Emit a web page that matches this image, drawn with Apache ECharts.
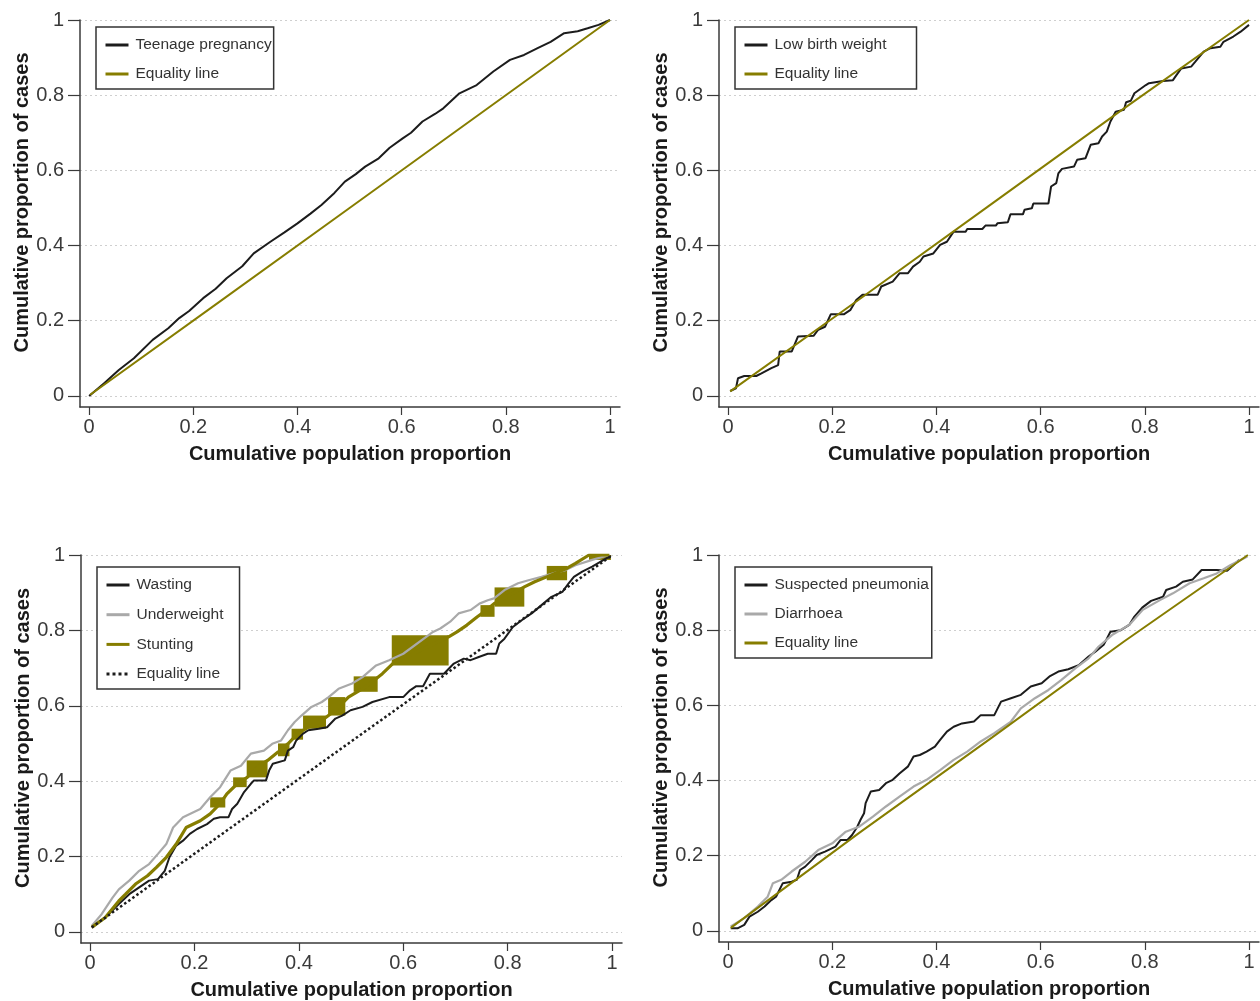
<!DOCTYPE html>
<html>
<head>
<meta charset="utf-8">
<script src="https://cdn.jsdelivr.net/npm/echarts@6/dist/echarts.min.js"></script>
<style>
html,body{margin:0;padding:0;background:#fff;}
#chart{width:1260px;height:1001px;}
</style>
</head>
<body>
<div id="chart"></div>
<script>
// ---- tick labels ----
const xTicks = [0, 0.2, 0.4, 0.6, 0.8, 1];
const yTicks = [0, 0.2, 0.4, 0.6, 0.8, 1];

// ---- Panel 1: Teenage pregnancy ----
const teenagePregnancy = [[0,0],[0.030,0.035],[0.057,0.069],[0.086,0.1],[0.122,0.149],[0.152,0.18],[0.173,0.207],[0.192,0.226],[0.219,0.26],[0.243,0.285],[0.264,0.313],[0.294,0.345],[0.316,0.379],[0.348,0.41],[0.375,0.435],[0.400,0.459],[0.425,0.485],[0.446,0.508],[0.471,0.54],[0.491,0.57],[0.512,0.59],[0.530,0.61],[0.556,0.632],[0.577,0.66],[0.602,0.685],[0.618,0.7],[0.640,0.73],[0.664,0.75],[0.680,0.765],[0.711,0.805],[0.744,0.827],[0.776,0.863],[0.808,0.894],[0.835,0.907],[0.861,0.925],[0.886,0.942],[0.912,0.965],[0.938,0.97],[0.957,0.978],[0.978,0.987],[1.0,1.0]];
const equality1 = [[0.002,0.003],[0.25,0.25],[0.5,0.5],[0.75,0.75],[1,1]];

// ---- Panel 2: Low birth weight ----
const lowBirthWeight = [[0.004,0.013],[0.015,0.02],[0.019,0.047],[0.031,0.053],[0.054,0.053],[0.064,0.06],[0.083,0.074],[0.096,0.082],[0.099,0.118],[0.122,0.118],[0.134,0.158],[0.164,0.16],[0.173,0.176],[0.186,0.184],[0.197,0.217],[0.222,0.217],[0.235,0.229],[0.246,0.255],[0.258,0.269],[0.287,0.269],[0.294,0.291],[0.316,0.304],[0.329,0.326],[0.345,0.326],[0.355,0.344],[0.368,0.357],[0.375,0.371],[0.394,0.379],[0.407,0.402],[0.42,0.41],[0.433,0.437],[0.456,0.437],[0.459,0.444],[0.488,0.444],[0.494,0.453],[0.514,0.453],[0.517,0.459],[0.537,0.462],[0.542,0.483],[0.566,0.483],[0.569,0.495],[0.583,0.499],[0.586,0.512],[0.615,0.512],[0.62,0.557],[0.63,0.566],[0.634,0.592],[0.641,0.604],[0.664,0.61],[0.67,0.628],[0.686,0.632],[0.696,0.668],[0.711,0.672],[0.718,0.69],[0.727,0.703],[0.734,0.73],[0.744,0.756],[0.76,0.761],[0.764,0.781],[0.773,0.785],[0.78,0.805],[0.802,0.827],[0.808,0.832],[0.835,0.838],[0.854,0.84],[0.861,0.854],[0.87,0.871],[0.889,0.876],[0.897,0.889],[0.913,0.916],[0.926,0.925],[0.945,0.929],[0.951,0.942],[0.97,0.956],[0.984,0.969],[1.0,0.987]];
const equality2 = [[0.004,0.012],[0.25,0.255],[0.5,0.505],[0.75,0.755],[1,1]];

// ---- Panel 3: Wasting / Underweight / Stunting ----
const wasting = [[0.003,0.012],[0.029,0.038],[0.055,0.074],[0.075,0.1],[0.094,0.118],[0.113,0.136],[0.13,0.14],[0.143,0.162],[0.152,0.198],[0.165,0.229],[0.178,0.242],[0.191,0.26],[0.205,0.273],[0.224,0.286],[0.237,0.3],[0.249,0.304],[0.265,0.304],[0.272,0.326],[0.282,0.34],[0.295,0.371],[0.308,0.393],[0.314,0.402],[0.337,0.402],[0.343,0.428],[0.35,0.446],[0.373,0.455],[0.379,0.481],[0.389,0.49],[0.395,0.508],[0.408,0.526],[0.418,0.535],[0.438,0.539],[0.454,0.543],[0.47,0.566],[0.483,0.574],[0.499,0.588],[0.522,0.597],[0.541,0.61],[0.573,0.623],[0.6,0.623],[0.613,0.641],[0.625,0.652],[0.638,0.652],[0.651,0.685],[0.678,0.685],[0.697,0.712],[0.716,0.725],[0.729,0.721],[0.746,0.73],[0.762,0.738],[0.778,0.738],[0.784,0.765],[0.794,0.778],[0.81,0.809],[0.827,0.827],[0.846,0.845],[0.865,0.867],[0.884,0.889],[0.905,0.902],[0.917,0.925],[0.927,0.942],[0.943,0.956],[0.962,0.969],[0.989,0.991],[0.998,0.997]];
const underweight = [[0.003,0.016],[0.022,0.047],[0.043,0.091],[0.055,0.113],[0.075,0.136],[0.094,0.162],[0.113,0.18],[0.13,0.207],[0.146,0.233],[0.159,0.277],[0.178,0.304],[0.211,0.326],[0.23,0.357],[0.249,0.384],[0.269,0.428],[0.289,0.441],[0.308,0.473],[0.333,0.481],[0.349,0.499],[0.366,0.508],[0.379,0.535],[0.392,0.557],[0.405,0.574],[0.424,0.597],[0.444,0.61],[0.457,0.623],[0.476,0.645],[0.502,0.659],[0.522,0.676],[0.548,0.707],[0.573,0.721],[0.6,0.738],[0.657,0.796],[0.671,0.805],[0.69,0.823],[0.706,0.845],[0.729,0.854],[0.746,0.871],[0.762,0.88],[0.774,0.885],[0.794,0.907],[0.82,0.925],[0.84,0.933],[0.865,0.942],[0.891,0.953],[0.911,0.96],[0.93,0.973],[0.962,0.987],[0.995,1.0]];
const stunting = [[0.003,0.012],[0.029,0.038],[0.055,0.082],[0.068,0.1],[0.087,0.127],[0.11,0.149],[0.127,0.171],[0.146,0.198],[0.165,0.233],[0.184,0.277],[0.211,0.295],[0.23,0.313],[0.249,0.34],[0.262,0.366],[0.282,0.393],[0.301,0.41],[0.321,0.437],[0.34,0.455],[0.36,0.477],[0.379,0.499],[0.398,0.526],[0.418,0.543],[0.444,0.561],[0.47,0.588],[0.495,0.623],[0.528,0.65],[0.56,0.685],[0.58,0.712],[0.687,0.783],[0.703,0.796],[0.722,0.814],[0.742,0.836],[0.755,0.849],[0.774,0.871],[0.833,0.916],[0.852,0.929],[0.875,0.942],[0.914,0.965],[0.93,0.978],[0.956,1.0],[0.995,1.0]];
// Stunting clusters: [x0, x1, y0, y1]
const stuntingBlocks = [[0.578,0.687,0.707,0.787],[0.775,0.832,0.863,0.914],[0.875,0.914,0.933,0.971],[0.505,0.551,0.637,0.678],[0.456,0.489,0.574,0.623],[0.408,0.452,0.539,0.574],[0.386,0.408,0.51,0.539],[0.36,0.382,0.466,0.5],[0.3,0.34,0.41,0.455],[0.274,0.3,0.384,0.41],[0.23,0.259,0.33,0.357],[0.748,0.775,0.836,0.867],[0.956,0.998,0.987,1.0]];
const equality3 = [[0.003,0.012],[0.5,0.505],[0.998,0.997]];

// ---- Panel 4: Suspected pneumonia / Diarrhoea ----
const pneumonia = [[0.005,0.007],[0.018,0.007],[0.031,0.016],[0.041,0.038],[0.057,0.051],[0.07,0.065],[0.083,0.082],[0.092,0.091],[0.105,0.127],[0.122,0.131],[0.132,0.136],[0.138,0.162],[0.148,0.171],[0.161,0.189],[0.17,0.202],[0.186,0.211],[0.206,0.224],[0.216,0.242],[0.229,0.242],[0.238,0.255],[0.248,0.277],[0.254,0.295],[0.261,0.313],[0.264,0.34],[0.274,0.371],[0.29,0.375],[0.303,0.393],[0.316,0.402],[0.329,0.419],[0.345,0.437],[0.356,0.464],[0.368,0.468],[0.381,0.477],[0.397,0.49],[0.407,0.508],[0.42,0.53],[0.433,0.543],[0.449,0.552],[0.472,0.557],[0.485,0.574],[0.511,0.574],[0.524,0.61],[0.543,0.619],[0.562,0.628],[0.581,0.65],[0.602,0.659],[0.618,0.678],[0.634,0.69],[0.653,0.696],[0.673,0.707],[0.692,0.73],[0.705,0.743],[0.721,0.761],[0.734,0.796],[0.754,0.8],[0.77,0.814],[0.78,0.836],[0.795,0.86],[0.812,0.878],[0.835,0.889],[0.841,0.907],[0.86,0.916],[0.873,0.929],[0.892,0.935],[0.909,0.96],[0.938,0.96],[0.958,0.958],[0.97,0.973],[0.981,0.987]];
const diarrhoea = [[0.005,0.012],[0.031,0.034],[0.057,0.065],[0.076,0.091],[0.086,0.127],[0.102,0.136],[0.122,0.158],[0.148,0.184],[0.173,0.215],[0.2,0.233],[0.226,0.264],[0.251,0.277],[0.278,0.304],[0.303,0.331],[0.329,0.357],[0.356,0.384],[0.381,0.402],[0.407,0.428],[0.433,0.455],[0.459,0.477],[0.485,0.504],[0.511,0.526],[0.543,0.557],[0.562,0.592],[0.589,0.619],[0.615,0.641],[0.64,0.668],[0.667,0.699],[0.692,0.725],[0.711,0.756],[0.737,0.787],[0.77,0.814],[0.796,0.854],[0.829,0.88],[0.854,0.898],[0.886,0.925],[0.913,0.938],[0.938,0.951],[0.964,0.973],[0.997,0.996]];
const equality4 = [[0.005,0.008],[0.253,0.262],[0.507,0.515],[0.76,0.77],[0.998,1.0]];

// ---- styling ----
const FONT = "'Liberation Sans',Arial,sans-serif";
const BLACK = '#1c1c1c', GRAY = '#a9a9a9', OLIVE = '#867d00', AXIS = '#3a3a3a';
const XMIN = -0.0175, XMAX = 1.0192, YMIN = -0.0295, YMAX = 1;

const grids = [
  {left: 80, top: 20, width: 540, height: 387},
  {left: 719, top: 20, width: 540, height: 387},
  {left: 81, top: 555, width: 541, height: 388},
  {left: 719, top: 555, width: 540, height: 387}
];

function xAxisFor(i) {
  return {
    type: 'value', gridIndex: i, min: XMIN, max: XMAX,
    axisLine: {show: true, onZero: false, lineStyle: {color: AXIS, width: 1.5}},
    axisTick: {show: true, customValues: xTicks, length: 8, lineStyle: {color: AXIS, width: 1.2}},
    axisLabel: {customValues: xTicks, margin: 10, fontSize: 20, color: AXIS, fontFamily: FONT, formatter: v => String(v)},
    splitLine: {show: false},
    name: 'Cumulative population proportion', nameLocation: 'middle', nameGap: 37,
    nameTextStyle: {fontSize: 20, fontWeight: 'bold', color: '#1a1a1a', fontFamily: FONT}
  };
}
function yAxisFor(i) {
  return {
    type: 'value', gridIndex: i, min: YMIN, max: YMAX,
    axisLine: {show: true, onZero: false, lineStyle: {color: AXIS, width: 1.5}},
    axisTick: {show: true, customValues: yTicks, length: 12, lineStyle: {color: AXIS, width: 1.2}},
    axisLabel: {customValues: yTicks, margin: 16, fontSize: 20, color: AXIS, fontFamily: FONT, formatter: v => String(v)},
    splitLine: {show: true, lineStyle: {color: '#cfcfcf', width: 1, type: [2, 3]}},
    name: 'Cumulative proportion of cases', nameLocation: 'middle', nameGap: 47,
    nameTextStyle: {fontSize: 20, fontWeight: 'bold', color: '#1a1a1a', fontFamily: FONT, padding: [0, 0, 0, 22]}
  };
}
function lineSeries(i, name, data, color, width, type) {
  return {
    type: 'line', name: name, xAxisIndex: i, yAxisIndex: i, data: data,
    symbol: 'none', animation: false,
    lineStyle: {color: color, width: width, type: type || 'solid'},
    itemStyle: {color: color}
  };
}
function legendFor(left, top, names, padRight, gap) {
  return {
    left: left, top: top, orient: 'vertical', selectedMode: false,
    data: names, itemWidth: 23, itemHeight: 14, itemGap: gap,
    padding: [8, padRight, 5, 8],
    borderColor: '#333', borderWidth: 1.5, backgroundColor: '#fff',
    lineStyle: {width: 3},
    itemStyle: {color: 'rgba(0,0,0,0)', borderColor: 'rgba(0,0,0,0)', borderWidth: 0},
    textStyle: {fontSize: 15.5, fontFamily: FONT, color: '#333', lineHeight: 20, padding: [0, 0, 0, 2]}
  };
}

const option = {
  backgroundColor: '#fff',
  animation: false,
  grid: grids,
  xAxis: [0, 1, 2, 3].map(xAxisFor),
  yAxis: [0, 1, 2, 3].map(yAxisFor),
  legend: [
    legendFor(96, 27, ['Teenage pregnancy', 'Equality line'], 2, 9),
    legendFor(735, 27, ['Low birth weight', 'Equality line'], 30, 9),
    legendFor(97, 567, ['Wasting', 'Underweight', 'Stunting',
      {name: 'Equality line', lineStyle: {color: BLACK, type: 'dotted', width: 3}}], 16, 9.7),
    legendFor(735, 567, ['Suspected pneumonia', 'Diarrhoea', 'Equality line'], 3, 9)
  ],
  series: [
    lineSeries(0, 'Teenage pregnancy', teenagePregnancy, BLACK, 2),
    lineSeries(0, 'Equality line', equality1, OLIVE, 2),
    lineSeries(1, 'Low birth weight', lowBirthWeight, BLACK, 2),
    lineSeries(1, 'Equality line', equality2, OLIVE, 2),
    lineSeries(2, 'Wasting', wasting, BLACK, 2),
    lineSeries(2, 'Underweight', underweight, GRAY, 2.2),
    lineSeries(2, 'Stunting', stunting, OLIVE, 3.2),
    {
      type: 'custom', name: 'Stunting', xAxisIndex: 2, yAxisIndex: 2, data: stuntingBlocks,
      animation: false, itemStyle: {color: OLIVE},
      renderItem: function (params, api) {
        const p0 = api.coord([api.value(0), api.value(3)]);
        const p1 = api.coord([api.value(1), api.value(2)]);
        return {type: 'rect', shape: {x: p0[0], y: p0[1], width: p1[0] - p0[0], height: p1[1] - p0[1]},
          style: {fill: OLIVE}};
      }
    },
    lineSeries(2, 'Equality line', equality3, BLACK, 2.5, 'dotted'),
    lineSeries(3, 'Suspected pneumonia', pneumonia, BLACK, 2),
    lineSeries(3, 'Diarrhoea', diarrhoea, GRAY, 2.2),
    lineSeries(3, 'Equality line', equality4, OLIVE, 2)
  ]
};

const chart = echarts.init(document.getElementById('chart'), null, {renderer: 'canvas'});
chart.setOption(option);
</script>
</body>
</html>
